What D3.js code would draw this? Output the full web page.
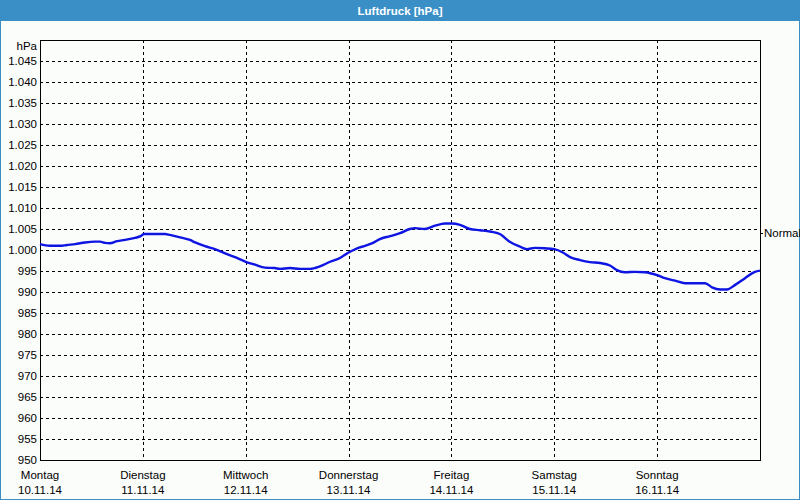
<!DOCTYPE html>
<html><head><meta charset="utf-8">
<script src="https://cdn.jsdelivr.net/npm/d3@7"></script>
<style>
html,body{margin:0;padding:0;background:#fff;}
text{font-family:"Liberation Sans",Arial,sans-serif;}
</style></head>
<body><svg id="c" width="800" height="500"></svg>
<script>
const title = "Luftdruck [hPa]";
const unitLabel = "hPa";
const dayNames = ["Montag","Dienstag","Mittwoch","Donnerstag","Freitag","Samstag","Sonntag"];
const dayDates = ["10.11.14","11.11.14","12.11.14","13.11.14","14.11.14","15.11.14","16.11.14"];
const yTicks = [950,955,960,965,970,975,980,985,990,995,1000,1005,1010,1015,1020,1025,1030,1035,1040,1045];
const normalValue = 1004;
const normalLabel = "Normal";
// hours since Monday 00:00
const hours = [0,2.3,4.7,6.3,8.2,10.5,12.8,14,15.2,16.3,18,19.8,22.2,23.5,24.3,25.7,29.2,30.3,32.7,35,36.2,38.5,40.8,43.2,45.5,48,50.2,52.5,54.8,56,58.3,60.7,63,65.3,67.7,70,72,74,75.8,77.7,79.3,81.7,84,86.3,87.5,89.8,92.2,94.5,96,98,100.3,102.7,105,107.3,109.7,112,113.6,115.5,117.8,120,122,123.7,126,128.3,130.7,133,134.6,136.5,138.8,141.2,144,145.8,148.2,150.5,152.8,155.2,156.8,158.7,160.3,162.2,164.5,166.8,168];
const pressure = [1001.4,1001.0,1001.0,1001.2,1001.4,1001.8,1002.0,1002.0,1001.7,1001.6,1002.1,1002.4,1002.9,1003.3,1003.8,1003.8,1003.8,1003.6,1003.0,1002.4,1001.8,1000.9,1000.2,999.2,998.3,997.2,996.5,995.8,995.7,995.5,995.7,995.5,995.5,996.1,997.2,998.1,999.4,1000.4,1001.0,1001.7,1002.6,1003.3,1004.0,1005.0,1005.2,1005.0,1005.8,1006.3,1006.3,1006.0,1005.0,1004.7,1004.4,1003.8,1001.9,1000.8,1000.2,1000.5,1000.4,1000.2,999.4,998.3,997.6,997.1,996.9,996.3,995.2,994.7,994.8,994.7,994.0,993.3,992.7,992.1,992.1,992.1,991.1,990.6,990.6,991.7,993.3,994.8,995.1];

const svg = d3.select("#c");
const W = 800, H = 500;
const m = {l:40, r:760, t:40, b:460};

svg.append("rect").attr("x",0.5).attr("y",0.5).attr("width",W-1).attr("height",H-1)
  .attr("fill","#fbfdfb").attr("stroke","#3b8fc7");
svg.append("rect").attr("x",0).attr("y",0).attr("width",W).attr("height",21).attr("fill","#3b8fc7");
svg.append("text").attr("x",W/2).attr("y",15).attr("text-anchor","middle")
  .attr("fill","#fff").attr("font-weight","bold").attr("font-size",11.5).text(title);

const x = d3.scaleLinear().domain([0,168]).range([m.l,m.r]);
const y = d3.scaleLinear().domain([950,1050]).range([m.b,m.t]);

const g = svg.append("g");
// horizontal grid
g.selectAll("line.hg").data(yTicks.filter(v=>v>950)).join("line")
  .attr("x1",m.l).attr("x2",m.r).attr("y1",d=>Math.round(y(d))+0.5).attr("y2",d=>Math.round(y(d))+0.5)
  .attr("stroke","#000").attr("stroke-dasharray","3,3").attr("shape-rendering","crispEdges");
// vertical grid
g.selectAll("line.vg").data(d3.range(1,7)).join("line")
  .attr("y1",m.t).attr("y2",m.b).attr("x1",d=>Math.round(x(d*24))+0.5).attr("x2",d=>Math.round(x(d*24))+0.5)
  .attr("stroke","#000").attr("stroke-dasharray","3,3").attr("shape-rendering","crispEdges");
// frame
svg.append("rect").attr("x",m.l+0.5).attr("y",m.t+0.5).attr("width",m.r-m.l).attr("height",m.b-m.t)
  .attr("fill","none").attr("stroke","#000").attr("shape-rendering","crispEdges");

// y labels
const fmt = v => v>=1000 ? "1." + String(v-1000).padStart(3,"0") : String(v);
svg.selectAll("text.yl").data(yTicks).join("text")
  .attr("x",37).attr("y",d=>y(d)+4).attr("text-anchor","end").attr("font-size",11.5).attr("fill","#000")
  .text(fmt);
svg.append("text").attr("x",37).attr("y",y(1050)+10).attr("text-anchor","end").attr("font-size",11.5).text(unitLabel);

// x labels
svg.selectAll("text.xd").data(dayNames).join("text")
  .attr("x",(d,i)=>x(i*24)).attr("y",479).attr("text-anchor","middle").attr("font-size",11.5).text(d=>d);
svg.selectAll("text.xdt").data(dayDates).join("text")
  .attr("x",(d,i)=>x(i*24)).attr("y",494).attr("text-anchor","middle").attr("font-size",11.5).text(d=>d);

// normal marker
svg.append("line").attr("x1",m.r).attr("x2",m.r+3).attr("y1",Math.round(y(normalValue))+0.5).attr("y2",Math.round(y(normalValue))+0.5)
  .attr("stroke","#000").attr("shape-rendering","crispEdges");
svg.append("text").attr("x",m.r+4).attr("y",y(normalValue)+4).attr("font-size",11.5).text(normalLabel);

// line
const data = hours.map((h,i)=>({h, v:pressure[i]}));
svg.append("path").datum(data)
  .attr("d", d3.line().x(d=>x(d.h)).y(d=>y(d.v)).curve(d3.curveMonotoneX))
  .attr("fill","none").attr("stroke","#0e14e2").attr("stroke-width",2.4);
</script></body></html>
